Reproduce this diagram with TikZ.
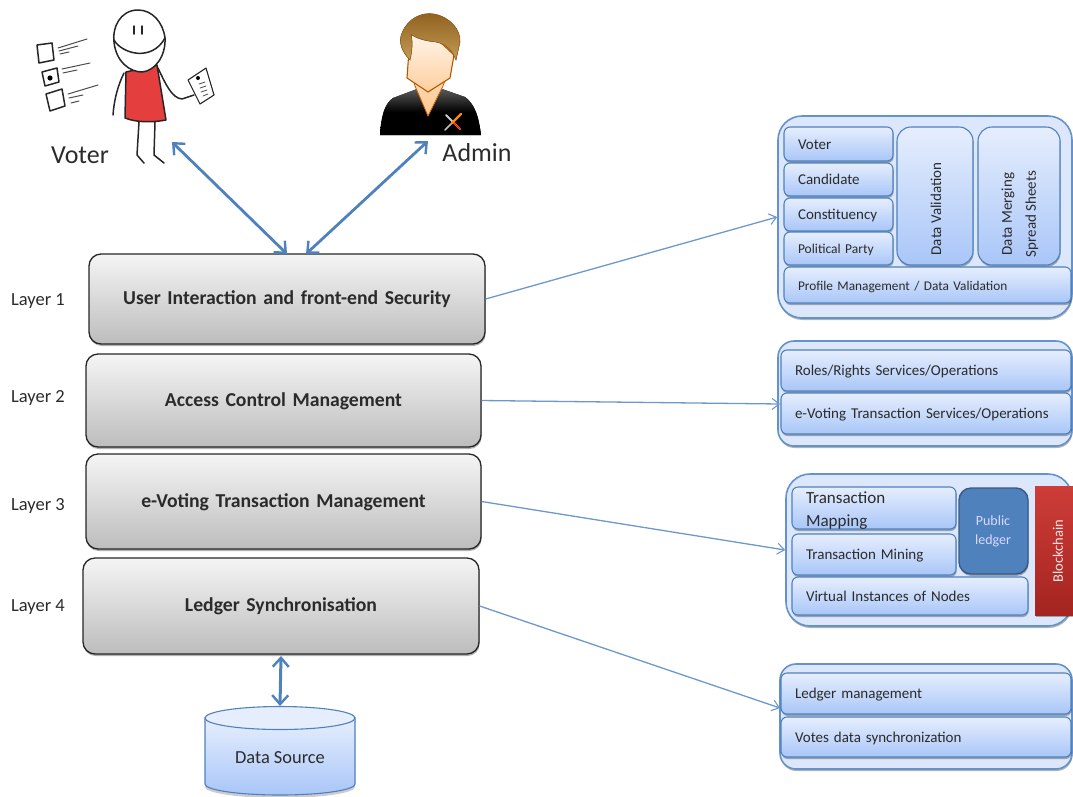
\documentclass[tikz,border=0pt]{standalone}
\usepackage{fontspec}
\setmainfont{Carlito}
\usetikzlibrary{arrows.meta,shadows,calc}
\definecolor{blueline}{HTML}{4F81BD}
\definecolor{panelline}{HTML}{6392CC}
\definecolor{thinblue}{HTML}{6E97CC}
\definecolor{boxtop}{HTML}{E6EEFD}
\definecolor{boxbot}{HTML}{A9C6F8}
\definecolor{panelfill}{HTML}{DCE7FC}
\definecolor{ink}{HTML}{2B2B2B}
\definecolor{dressred}{HTML}{E53E3E}
\definecolor{chaintop}{HTML}{CE3D38}
\definecolor{chainbot}{HTML}{A32420}
\definecolor{hairtop}{HTML}{8F621F}
\definecolor{hairbot}{HTML}{C49A55}
\tikzset{
 softshadow/.style={drop shadow={shadow xshift=0.6pt,shadow yshift=-2pt,opacity=.3,fill=black}},
 layerbox/.style={draw=black!85,line width=1.3pt,rounded corners=12pt,top color=gray!8,bottom color=gray!52,softshadow,font=\fontsize{19.7}{22}\selectfont\bfseries,text=ink,text depth=0pt,align=center},
 layerlabel/.style={font=\fontsize{18.5}{21}\selectfont,text=ink},
 panelbox/.style={draw=panelline,line width=1.6pt,rounded corners=24pt,fill=panelfill,softshadow},
 innerbox/.style={draw=blueline,line width=1.1pt,rounded corners=6pt,top color=boxtop,bottom color=boxbot,softshadow,font=\fontsize{15}{18}\selectfont,text=ink,align=left,inner ysep=0pt,inner xsep=14pt,text height=1em,text depth=0pt},
 tallbox/.style={innerbox,rounded corners=14pt},
 ledgerbox/.style={draw=blueline!70!black,line width=1.4pt,rounded corners=12pt,fill=blueline,softshadow},
 chainbox/.style={top color=chaintop,bottom color=chainbot,softshadow},
 thicklink/.style={draw=blueline,line width=2.8pt,{Straight Barb[length=9pt,width=16pt,line width=2.4pt]}-{Straight Barb[length=9pt,width=16pt,line width=2.4pt]}},
 thinlink/.style={draw=thinblue,line width=1.3pt,-{Straight Barb[length=7pt,width=11pt,line width=1.1pt]}},
 stick/.style={draw=black!85,line width=1.5pt,line cap=round,line join=round},
 tick/.style={draw=black!70,line width=1pt,line cap=round},
 who/.style={font=\fontsize{26}{29}\selectfont,text=ink},
}
% name, x1, y1, x2, y2, style, text
\newcommand\pxbox[7]{%
 \pgfmathsetmacro\bw{#4-#2}\pgfmathsetmacro\bh{#5-#3}%
 \pgfmathsetmacro\bcx{(#2+#4)/2}\pgfmathsetmacro\bcy{(#3+#5)/2}%
 \pgfmathsetmacro\tw{#4-#2-28}%
 \node[#6,minimum width=\bw pt,minimum height=\bh pt,text width=\tw pt] (#1) at (\bcx,\bcy) {#7};}
\begin{document}
\begin{tikzpicture}[x=1pt,y=-1pt]
\useasboundingbox (0,0) rectangle (1073,796);
% Layers
\pxbox{l1}{89}{254}{485}{344}{layerbox,text height=1em}{User Interaction and front-end Security}
\pxbox{l2}{86}{354}{481}{447}{layerbox,text height=1.2em}{Access Control Management}
\pxbox{l3}{86}{454}{481}{549}{layerbox,text height=1.2em}{e-Voting Transaction Management}
\pxbox{l4}{83}{558}{479}{654}{layerbox,text height=1.1em}{Ledger Synchronisation}
\node[layerlabel] (n1) at (38,301) {Layer 1};
\node[layerlabel] (n2) at (38,398) {Layer 2};
\node[layerlabel] (n3) at (38,506) {Layer 3};
\node[layerlabel] (n4) at (38,607) {Layer 4};
% Panel 1
\pxbox{p1}{778}{116}{1072}{318}{panelbox}{}
\pxbox{voter}{784}{127}{893}{161}{innerbox}{Voter}
\pxbox{cand}{784}{163}{893}{196}{innerbox}{Candidate}
\pxbox{cons}{784}{198}{893}{231}{innerbox}{Constituency}
\pxbox{party}{784}{232}{893}{265}{innerbox,font=\fontsize{13.5}{16}\selectfont}{Political Party}
\pxbox{valid}{897}{127}{973}{265}{tallbox}{}
\pxbox{merge}{978}{127}{1060}{265}{tallbox}{}
\node[rotate=90,font=\fontsize{15}{18}\selectfont,text=ink] (validt) at (936,209) {Data Validation};
\node[rotate=90,font=\fontsize{15}{24}\selectfont,text=ink,align=center] (merget) at (1020,214) {Data Merging\\Spread Sheets};
\pxbox{prof}{784}{267}{1071}{303}{innerbox,font=\fontsize{13.3}{16}\selectfont}{Profile Management / Data Validation}
% Panel 2
\pxbox{p2}{778}{341}{1072}{446}{panelbox,rounded corners=16pt}{}
\pxbox{roles}{781}{350}{1071}{391}{innerbox}{Roles/Rights Services/Operations}
\pxbox{evot}{781}{393}{1071}{434}{innerbox}{e-Voting Transaction Services/Operations}
% Panel 3
\pxbox{p3}{786}{474}{1072}{626}{panelbox}{}
\pxbox{map}{792}{487}{956}{529}{innerbox,font=\fontsize{17}{23}\selectfont,text height=15pt,text depth=25pt}{Transaction\\Mapping}
\pxbox{mine}{792}{534}{956}{575}{innerbox}{Transaction Mining}
\pxbox{virt}{792}{577}{1028}{615}{innerbox}{Virtual Instances of Nodes}
\pxbox{pub}{959}{488}{1028}{574}{ledgerbox}{}
\node[align=center,text=white!85!blue,font=\fontsize{14}{19}\selectfont] (pubt) at (993,531) {Public\\ledger};
\node[chainbox,minimum width=43pt,minimum height=129pt] (chain) at (1056.5,550.5) {};
\node[rotate=90,text=white!90!red,font=\fontsize{14.5}{17}\selectfont] (chaint) at (1058,551) {Blockchain};
% Panel 4
\pxbox{p4}{780}{664}{1072}{769}{panelbox,rounded corners=16pt}{}
\pxbox{lman}{781}{673}{1071}{714}{innerbox}{Ledger management}
\pxbox{vsync}{781}{717}{1071}{757}{innerbox}{Votes data synchronization}
% Data source
\coordinate (dstop) at (280,706);
\coordinate (dsmid) at (280,758);
\fill[black,opacity=.2] (205,719) -- (205,787) arc[start angle=180,end angle=360,x radius=75pt,y radius=11pt] -- (355,719) -- cycle;
\draw[blueline,line width=1.1pt,top color=boxtop,bottom color=boxbot] (205,718) -- (205,784) arc[start angle=180,end angle=360,x radius=75pt,y radius=11pt] -- (355,718) -- cycle;
\draw[blueline,line width=1.1pt,fill=boxtop] (280,718) ellipse[x radius=75pt,y radius=11.5pt];
\node[font=\fontsize{18.4}{21}\selectfont,text=ink] (dst) at (dsmid) {Data Source};
% Voter figure
\coordinate (voterfoot) at (172,142);
\filldraw[stick,fill=dressred] (126,72) -- (157,65) -- (166,120) .. controls (150,123) and (135,122) .. (125,118) -- cycle;
\draw[stick,fill=white] (138,10) .. controls (120,10) and (112,28) .. (114,42) .. controls (116,62) and (130,72) .. (142,72) .. controls (155,71) and (166,56) .. (165,38) .. controls (163,22) and (152,10) .. (138,10) -- cycle;
\draw[stick] (114,40) .. controls (122,54) and (152,62) .. (165,38);
\draw[stick] (134,26) -- (134,34) (142,26) -- (142,34);
\draw[stick] (139,122) -- (137,155) -- (144,163) (155,122) -- (154,155) -- (164,163);
\draw[stick] (124,73) .. controls (118,85) and (114,100) .. (113,115);
\draw[stick] (158,68) .. controls (166,85) and (172,98) .. (182,99) -- (194,95);
\draw[stick,line width=1.1pt,fill=white] (188,80) -- (206,68) -- (214,95) -- (200,104) -- cycle;
\fill[black] (198,78) circle[radius=2pt];
\draw[tick,line width=.8pt] (199,84) -- (205,82) (200,88) -- (206,86) (201,92) -- (207,90) (203,96) -- (208,94);
\draw[stick] (37,45) -- (52,43) -- (54,60) -- (39,63) -- cycle;
\draw[stick] (42,72) -- (57,68) -- (59,82) -- (45,86) -- cycle;
\fill[black] (50,78) circle[radius=2.6pt];
\draw[stick] (46,94) -- (62,89) -- (65,106) -- (50,111) -- cycle;
\draw[tick] (58,48) -- (87,39) (59,51) -- (78,46) (60,54) -- (69,52);
\draw[tick] (62,69) -- (90,63) (63,73) -- (77,70);
\draw[tick] (68,94) -- (98,85) (69,98) -- (83,95) (71,103) -- (79,101);
\node[who] (votert) at (80,155) {Voter};
% Admin figure
\coordinate (adminfoot) at (428,141);
\fill[top color=gray!70!black,bottom color=black,middle color=black] (380,135) .. controls (381,118) and (384,104) .. (393,98) -- (417,89) -- (428,117) -- (442,89) -- (465,97) .. controls (475,104) and (479,118) .. (481,135) -- cycle;
\draw[orange!75!black,line width=.8pt,top color=orange!25!white,bottom color=orange!45!white] (415,86) -- (428,116) -- (443,86) -- (449,70) -- (410,70) -- cycle;
\draw[orange!70!black,line width=1.1pt,top color=orange!8!white,bottom color=orange!38!white] (409,50) -- (407,78) -- (428,92) -- (450,78) -- (454,55) -- (438,40) -- (412,32) -- cycle;
\fill[draw=hairtop,line width=.6pt,top color=hairtop,bottom color=hairbot] (410,60) .. controls (402,52) and (398,42) .. (402,33) .. controls (408,18) and (422,12) .. (434,14) .. controls (450,17) and (461,30) .. (460,42) -- (456,60) .. controls (452,50) and (446,44) .. (436,42) .. controls (425,41) and (415,38) .. (411,34) .. controls (413,42) and (412,52) .. (410,60) -- cycle;
\draw[gray!40,line width=2pt,line cap=round] (446,115) -- (460,129);
\draw[red!70!orange,line width=1.6pt,line cap=round] (453,122) -- (460,129);
\draw[gray!50,line width=1.6pt,line cap=round] (445,130) -- (452,123);
\draw[orange!90!yellow,line width=2.4pt,line cap=round] (452,123) -- (461,114);
\node[who] (admint) at (477,153) {Admin};
% Connectors
\coordinate (l1top) at (287,254);
\coordinate (l1topb) at (306,254);
\coordinate (ltop) at (281,656);
\coordinate (in2) at (780,404);
\coordinate (in4) at (780,708);
\draw[thicklink] (voterfoot) -- (l1top);
\draw[thicklink] (adminfoot) -- (l1topb);
\draw[thicklink,line width=3pt] (ltop) -- (dstop);
\draw[thinlink] (l1.east) -- (p1.west);
\draw[thinlink] (l2.east) -- (in2);
\draw[thinlink] (l3.east) -- (p3.west);
\draw[thinlink] (l4.east) -- (in4);
\end{tikzpicture}
\end{document}
